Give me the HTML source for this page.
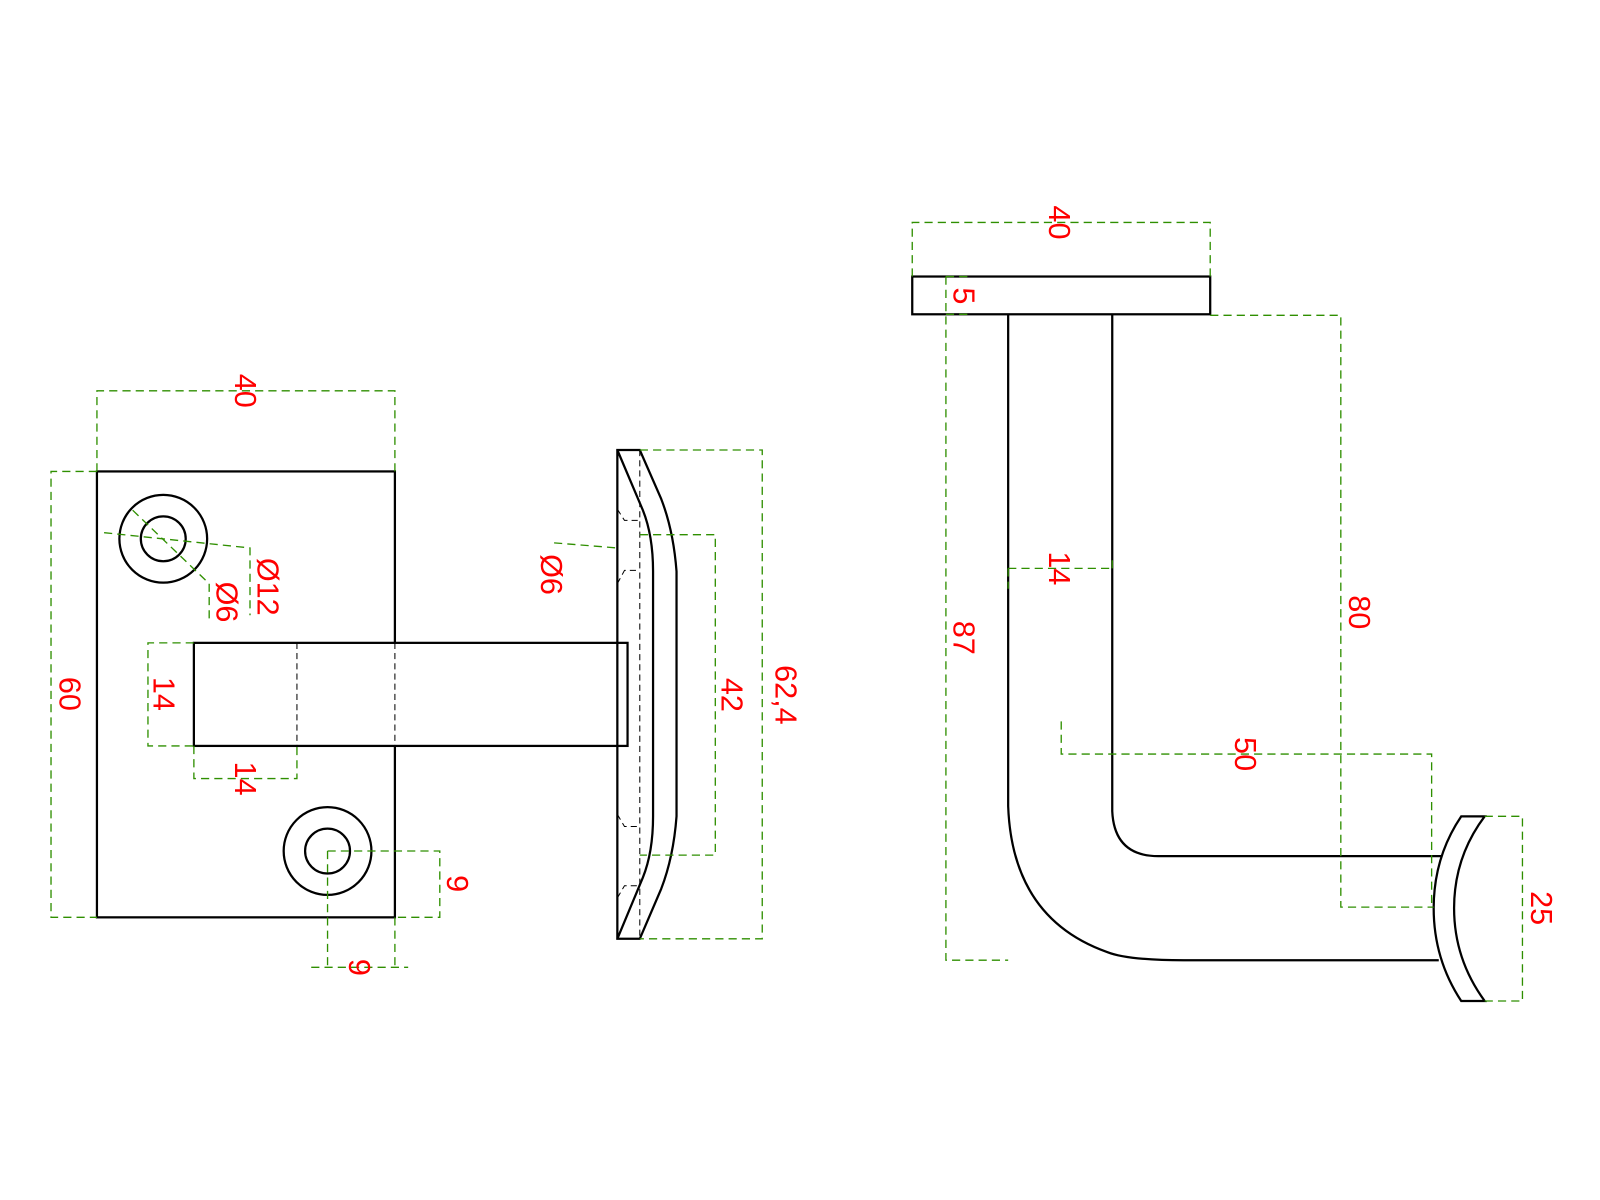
<!DOCTYPE html>
<html><head><meta charset="utf-8"><style>
html,body{margin:0;padding:0;background:#fff;width:1600px;height:1200px;overflow:hidden}
svg{display:block}
text{font-family:"Liberation Sans","DejaVu Sans",sans-serif;font-size:30px;fill:#ff0000;text-anchor:middle;dominant-baseline:central}
.k{stroke:#000;stroke-width:2.2;fill:none}
.h{stroke:#000;stroke-width:1;fill:none;stroke-dasharray:6 4}
.g{stroke:#2f8f00;stroke-width:1.3;fill:none;stroke-dasharray:8 5}
</style></head><body>
<svg width="1600" height="1200" viewBox="0 0 1568 1176" xmlns="http://www.w3.org/2000/svg">
<!-- LEFT VIEW -->
<rect class="k" x="95" y="462" width="292" height="437"/>
<circle class="k" cx="160" cy="528" r="43"/><circle class="k" cx="160" cy="528" r="22"/>
<circle class="k" cx="321" cy="834" r="43"/><circle class="k" cx="321" cy="834" r="22"/>
<rect x="190" y="630" width="425" height="101" fill="#fff" stroke="#000" stroke-width="2.2"/>
<line class="h" x1="291" y1="630" x2="291" y2="731"/>
<line class="h" x1="387" y1="630" x2="387" y2="731"/>
<path class="g" d="M95 462V383H387V462"/>
<path class="g" d="M95 462H50V899H95"/>
<path class="g" d="M190 630H145V731H190"/>
<path class="g" d="M190 731V763H291V731"/>
<path class="g" d="M321 834H431V899H387"/>
<path class="g" d="M321 834V948M387 899V948M305 948H400"/>
<path class="g" d="M102 522L245 537V603"/>
<path class="g" d="M130 500L205 572V608"/>
<text transform="translate(240,383) rotate(90)">40</text>
<text transform="translate(68,680) rotate(90)">60</text>
<text transform="translate(160,680) rotate(90)">14</text>
<text transform="translate(240,763) rotate(90)">14</text>
<text transform="translate(448,866) rotate(90)">9</text>
<text transform="translate(352,948) rotate(90)">9</text>
<text transform="translate(262,575) rotate(90)">Ø12</text>
<text transform="translate(222,590) rotate(90)">Ø6</text>
<!-- MIDDLE VIEW -->
<path class="k" d="M605 441H627L648 489Q660 520 663 560V800Q660 840 648 871L627 920H605Z"/>
<path class="k" d="M605 441L630 500Q640 525 640 560V800Q640 835 630 860L605 920"/>
<line class="h" x1="627" y1="441" x2="627" y2="920"/>
<path class="h" d="M605 499L612 510H627M605 572L612 559H627M605 798L612 810H627M605 880L612 868H627"/>
<path class="g" d="M543 532L605 537"/>
<path class="g" d="M627 524H701V838H627"/>
<path class="g" d="M627 441H747V920H627"/>
<text transform="translate(540,563) rotate(90)">Ø6</text>
<text transform="translate(717,681) rotate(90)">42</text>
<text transform="translate(770,681) rotate(90)">62,4</text>
<!-- RIGHT VIEW -->
<rect class="k" x="894" y="271" width="292" height="37"/>
<path class="k" d="M988 308V790Q992 900 1085 933Q1105 941 1160 941H1410"/>
<path class="k" d="M1090 308V795Q1092 839 1135 839H1413"/>
<path class="k" d="M1432 800H1455Q1425 840 1425 890Q1425 940 1455 981H1432Q1405 940 1405 890Q1405 840 1432 800Z"/>
<path class="g" d="M894 271V218H1186V271"/>
<path class="g" d="M927 271V941H988"/>
<path class="g" d="M927 271H948M927 308H948"/>
<path class="g" d="M988 557H1090M988 557V577M1090 557V545"/>
<path class="g" d="M1186 309H1314V889H1405"/>
<path class="g" d="M1040 707V739H1403V890"/>
<path class="g" d="M1455 800H1492V981H1455"/>
<text transform="translate(1038,218) rotate(90)">40</text>
<text transform="translate(944,290) rotate(90)">5</text>
<text transform="translate(944,625) rotate(90)">87</text>
<text transform="translate(1038,557) rotate(90)">14</text>
<text transform="translate(1332,600) rotate(90)">80</text>
<text transform="translate(1220,739) rotate(90)">50</text>
<text transform="translate(1510,890) rotate(90)">25</text>
</svg>
</body></html>
